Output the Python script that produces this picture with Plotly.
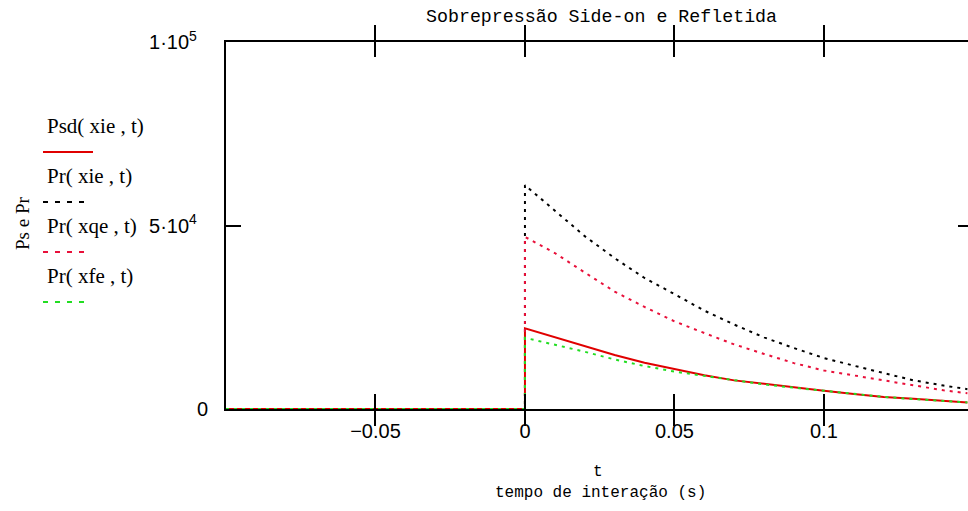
import plotly.graph_objects as go

# ---------------- data ----------------
t = [-0.1, 0.0, 0.0, 0.01, 0.02, 0.03, 0.04, 0.05, 0.06, 0.07, 0.08, 0.09,
     0.10, 0.11, 0.12, 0.13, 0.14, 0.148]
psd_xie = [0, 0, 22000, 19600, 17100, 14700, 12600, 10800, 9200, 7800, 6800,
           5900, 5000, 4100, 3300, 2800, 2200, 1800]
pr_xie = [0, 0, 61000, 54100, 47100, 41100, 35700, 31300, 26800, 23000, 19500,
          16600, 13900, 11800, 9800, 7800, 6400, 5400]
pr_xqe = [0, 0, 46900, 42500, 37200, 32000, 27800, 23900, 20700, 17600, 15000,
          12500, 10500, 9100, 7700, 6300, 5100, 4300]
pr_xfe = [0, 0, 19400, 17600, 15600, 13500, 11700, 10200, 9000, 7700, 6700,
          5800, 4900, 4000, 3300, 2700, 2200, 1800]

series_names = ["Psd( xie , t)", "Pr( xie , t)", "Pr( xqe , t)", "Pr( xfe , t)"]
x_tickvals = [-0.05, 0, 0.05, 0.1]
x_ticktext = ["\u22120.05", "0", "0.05", "0.1"]
y_tickvals = [0, 50000, 100000]
y_ticktext = ["0", "5\u00b710<sup>4</sup>&nbsp;&nbsp;", "1\u00b710<sup>5</sup>&nbsp;&nbsp;"]
title_text = "Sobrepress\u00e3o Side-on e Refletida"
xtitle_1 = "t"
xtitle_2 = "tempo de intera\u00e7\u00e3o (s)"
ytitle = "Ps e Pr"

# ---------------- styles ----------------
RED = "#e00000"
RED2 = "#e8103a"
BLACK = "#000000"
GREEN = "#22dd22"
DOTS = "3px,5px"

W, H = 968, 511
L, R, T, B = 226, 0, 42, 102
PW = W - L - R
PH = H - T - B


def px(xp):
    return (xp - L) / PW


def py(yp):
    return (H - B - yp) / PH


fig = go.Figure()
fig.add_trace(go.Scatter(x=t, y=psd_xie, mode="lines", name=series_names[0],
                         line=dict(color=RED, width=2)))
fig.add_trace(go.Scatter(x=t, y=pr_xie, mode="lines", name=series_names[1],
                         line=dict(color=BLACK, width=2, dash=DOTS)))
fig.add_trace(go.Scatter(x=t, y=pr_xqe, mode="lines", name=series_names[2],
                         line=dict(color=RED2, width=2, dash=DOTS)))
fig.add_trace(go.Scatter(x=t, y=pr_xfe, mode="lines", name=series_names[3],
                         line=dict(color=GREEN, width=2, dash=DOTS)))
# invisible copy on the right-hand axis so its inward ticks are drawn
fig.add_trace(go.Scatter(x=t, y=psd_xie, mode="lines", yaxis="y2",
                         line=dict(color="rgba(0,0,0,0)", width=0),
                         hoverinfo="skip", showlegend=False))

tick_font = dict(family="Liberation Sans, Arial, sans-serif", size=20, color="black")
slab_font = dict(family="Liberation Mono, Courier New, monospace", size=18.3, color="black")
slab_small = dict(family="Liberation Mono, Courier New, monospace", size=16, color="black")
leg_font = dict(family="Liberation Serif, Times New Roman, serif", size=21, color="black")

fig.update_layout(
    width=W, height=H,
    margin=dict(l=L, r=R, t=T, b=B),
    paper_bgcolor="white", plot_bgcolor="white",
    showlegend=False,
    xaxis=dict(range=[-0.1, 0.1482], showgrid=False, zeroline=False,
               showline=True, linecolor="black", linewidth=2, mirror="allticks",
               ticks="inside", ticklen=15, tickwidth=1.5, tickcolor="black",
               tickvals=x_tickvals, ticktext=x_ticktext, tickfont=tick_font,
               ticklabelstandoff=3),
    yaxis=dict(range=[0, 100000], showgrid=False, zeroline=False,
               showline=True, linecolor="black", linewidth=2,
               ticks="inside", ticklen=15, tickwidth=1.5, tickcolor="black",
               tickvals=y_tickvals, ticktext=y_ticktext, tickfont=tick_font,
               ticklabelstandoff=12),
    yaxis2=dict(range=[0, 100000], overlaying="y", side="right",
                showgrid=False, zeroline=False, showline=False,
                ticks="inside", ticklen=10, tickwidth=2, tickcolor="black",
                tickvals=y_tickvals, showticklabels=False),
)

ann = [
    dict(text=title_text, x=px(601), y=py(17), font=slab_font, xanchor="center"),
    dict(text=xtitle_1, x=px(598), y=py(472), font=slab_small, xanchor="center"),
    dict(text=xtitle_2, x=px(600), y=py(493), font=slab_small, xanchor="center"),
    dict(text=ytitle, x=px(22), y=py(224), font=dict(leg_font, size=19),
         textangle=-90, xanchor="center"),
]
legend_text_y = [126, 176, 226, 276]
for name, ty in zip(series_names, legend_text_y):
    ann.append(dict(text=name, x=px(45), y=py(ty), font=leg_font, xanchor="left"))
for a in ann:
    a.update(xref="paper", yref="paper", showarrow=False, yanchor="middle")
fig.update_layout(annotations=ann)

legend_lines = [
    (152, RED, None, 93),
    (202, BLACK, "5px,7px", 88),
    (252, RED2, "5px,7px", 88),
    (302, GREEN, "5px,7px", 88),
]
for ly, col, dash, x1 in legend_lines:
    line = dict(color=col, width=2)
    if dash:
        line["dash"] = dash
    fig.add_shape(type="line", xref="paper", yref="paper",
                  x0=px(43), x1=px(x1), y0=py(ly), y1=py(ly), line=line)

fig.write_html("out.html")
